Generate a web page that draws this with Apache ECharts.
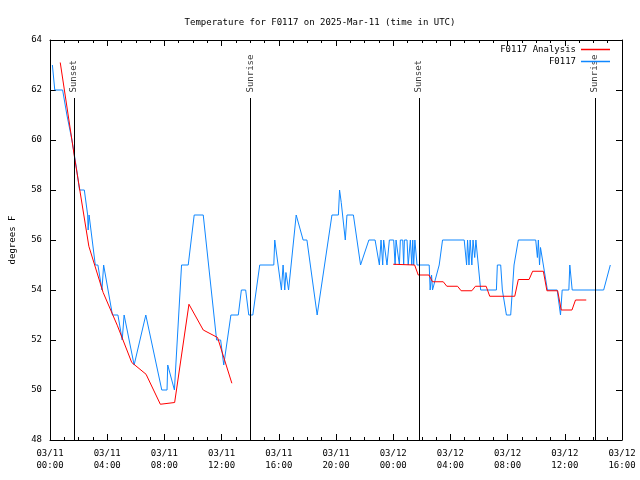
<!DOCTYPE html>
<html>
<head>
<meta charset="utf-8">
<script src="https://cdn.jsdelivr.net/npm/echarts@6/dist/echarts.min.js"></script>
<style>html,body{margin:0;padding:0;background:#fff}#c{width:640px;height:480px}</style>
</head>
<body>
<div id="c"></div>
<script>
// ---- Data (day-of-March HH:MM in UTC) ----
const obsTimes = [
'11 00:10','11 00:20','11 00:53','11 01:11','11 01:32','11 01:49','11 02:04','11 02:24','11 02:38','11 02:40',
'11 02:44','11 03:10','11 03:21','11 03:38','11 03:45','11 04:22','11 04:45','11 05:03','11 05:11','11 05:53',
'11 06:42','11 07:49','11 08:11','11 08:14','11 08:42','11 09:12','11 09:40','11 10:05','11 10:43','11 11:39',
'11 11:56','11 12:09','11 12:39','11 13:10','11 13:23','11 13:41','11 13:54','11 14:11','11 14:40','11 15:39',
'11 15:43','11 16:11','11 16:18','11 16:25','11 16:30','11 16:41','11 17:13','11 17:42','11 17:58','11 18:41',
'11 19:43','11 20:10','11 20:15','11 20:22','11 20:39','11 20:46','11 21:13','11 21:43','11 22:18','11 22:44',
'11 23:02','11 23:09','11 23:16','11 23:20','11 23:34','11 23:44','12 00:02','12 00:08','12 00:12','12 00:19',
'12 00:26','12 00:30','12 00:40','12 00:44','12 00:47','12 00:58','12 01:03','12 01:12','12 01:18','12 01:22',
'12 01:26','12 01:31','12 01:40','12 02:31','12 02:35','12 02:41','12 02:45','12 02:51','12 03:13','12 03:20',
'12 03:27','12 04:58','12 05:08','12 05:12','12 05:18','12 05:23','12 05:30','12 05:35','12 05:42','12 05:47',
'12 06:07','12 07:13','12 07:17','12 07:31','12 07:38','12 07:55','12 08:13','12 08:20','12 08:27','12 08:45',
'12 09:58','12 10:05','12 10:09','12 10:14','12 10:18','12 10:47','12 11:28','12 11:42','12 11:49','12 12:17',
'12 12:21','12 12:31','12 14:43','12 15:11'
];
const obsValues = [
63,62,62,61,60,59,58,58,57,56.4,
57,55,55,54,55,53,53,52,53,51,
53,50,50,51,50,55,55,57,57,52,
52,51,53,53,54,54,53,53,55,55,
56,54,55,54,54.7,54,57,56,56,53,
57,57,58,57.5,56,57,57,55,56,56,
55,56,55,56,55,56,56,55,56,56,
55,56,56,55,56,56,55,56,55,56,
55,56,55,55,54,54.6,54,54,55,55,
56,56,55,56,55,56,55,56,55.3,56,
54,54,55,55,54,53,53,54,55,56,
56,55.3,56,55,55.7,54,54,53,54,54,
55,54,54,55
];
const analysisTimesA = ['11 00:43','11 01:43','11 02:43','11 03:43','11 04:43','11 05:43','11 06:43','11 07:43','11 08:43','11 09:43','11 10:43','11 11:43','11 12:43'];
const analysisValuesA = [63.1,59.3,55.75,53.9,52.57,51.1,50.63,49.43,49.5,53.43,52.4,52.1,50.27];
const analysisTimesB = ['12 00:00','12 01:30','12 01:45','12 02:30','12 02:45','12 03:30','12 03:45','12 04:30','12 04:45','12 05:30','12 05:45','12 06:30','12 06:45','12 08:30','12 08:45','12 09:30','12 09:45','12 10:30','12 10:45','12 11:30','12 11:45','12 12:30','12 12:45','12 13:30'];
const analysisValuesB = [55.03,55.0,54.6,54.6,54.33,54.33,54.15,54.15,53.97,53.97,54.15,54.15,53.75,53.75,54.42,54.42,54.75,54.75,53.97,53.97,53.2,53.2,53.6,53.6];
const eventTimes = ['11 01:40','11 14:01','12 01:48','12 14:06'];
const eventNames = ['Sunset','Sunrise','Sunset','Sunrise'];
const yTicksMin = 48, yTicksMax = 64, yStep = 2;
const xHoursMax = 40, xStep = 4;

// ---- helpers ----
function toHours(s){
  const parts = s.split(' ');
  const hm = parts[1].split(':').map(Number);
  return (Number(parts[0]) - 11) * 24 + hm[0] + hm[1] / 60;
}
function pad(n){ return (n < 10 ? '0' : '') + n; }
function fmtX(v){
  const day = 11 + Math.floor(v / 24);
  const hh = Math.round(v - Math.floor(v / 24) * 24);
  return '03/' + pad(day) + '\n' + pad(hh) + ':00';
}
const FONT = 'DejaVu Sans Mono';
const RED = '#ff0000', BLUE = '#0f87ff';
const obsData = obsTimes.map((t, i) => [toHours(t), obsValues[i]]);
const anaData = analysisTimesA.map((t, i) => [toHours(t), analysisValuesA[i]])
  .concat([[ (toHours(analysisTimesA[analysisTimesA.length-1]) + toHours(analysisTimesB[0])) / 2, null ]])
  .concat(analysisTimesB.map((t, i) => [toHours(t), analysisValuesB[i]]));
const labelBase = 61.9, lineTop = 61.68;
const evData = eventTimes.map((t, i) => ({ name: eventNames[i], value: [toHours(t), labelBase] }));

const tickStyle = { color: '#000', width: 1 };
const chart = echarts.init(document.getElementById('c'), null, { renderer: 'canvas' });
chart.setOption({
  animation: false,
  backgroundColor: '#fff',
  title: {
    text: 'Temperature for F0117 on 2025-Mar-11 (time in UTC)',
    left: 'center', top: 13,
    textStyle: { fontFamily: FONT, fontSize: 9, fontWeight: 'normal', color: '#000' }
  },
  legend: {
    data: [
      { name: 'F0117 Analysis', icon: 'rect', itemStyle: { color: RED, borderWidth: 0, opacity: 1 } },
      { name: 'F0117', icon: 'rect', itemStyle: { color: BLUE, borderWidth: 0, opacity: 1 } }
    ],
    orient: 'vertical', right: 30, top: 45, align: 'right',
    itemWidth: 29, itemHeight: 1.5, itemGap: 3, padding: 0,
    textStyle: { fontFamily: FONT, fontSize: 9, color: '#000' }
  },
  grid: { left: 48, right: 18, top: 40, bottom: 40, containLabel: false },
  xAxis: [{
    type: 'value', min: 0, max: xHoursMax, interval: xStep,
    axisLine: { show: true, onZero: false, lineStyle: tickStyle },
    axisTick: { show: true, inside: true, length: 6, lineStyle: tickStyle },
    minorTick: { show: true, splitNumber: 4, length: 3, lineStyle: tickStyle },
    splitLine: { show: false },
    axisLabel: { formatter: fmtX, fontFamily: FONT, fontSize: 9, color: '#000', lineHeight: 12, margin: 8 }
  }, {
    type: 'value', position: 'top', min: 0, max: xHoursMax, interval: xStep,
    axisLine: { show: true, onZero: false, lineStyle: tickStyle },
    axisTick: { show: true, inside: true, length: 6, lineStyle: tickStyle },
    minorTick: { show: true, splitNumber: 4, length: 3, lineStyle: tickStyle },
    splitLine: { show: false },
    axisLabel: { show: false }
  }],
  yAxis: [{
    type: 'value', min: yTicksMin, max: yTicksMax, interval: yStep,
    name: 'degrees F', nameLocation: 'middle', nameGap: 33,
    nameTextStyle: { fontFamily: FONT, fontSize: 9, color: '#000' },
    axisLine: { show: true, onZero: false, lineStyle: tickStyle },
    axisTick: { show: true, inside: true, length: 6, lineStyle: tickStyle },
    splitLine: { show: false },
    axisLabel: { fontFamily: FONT, fontSize: 9, color: '#000', margin: 8 }
  }, {
    type: 'value', position: 'right', min: yTicksMin, max: yTicksMax, interval: yStep,
    axisLine: { show: true, onZero: false, lineStyle: tickStyle },
    axisTick: { show: true, inside: true, length: 6, lineStyle: tickStyle },
    splitLine: { show: false },
    axisLabel: { show: false }
  }],
  series: [{
    name: 'F0117 Analysis', type: 'line', data: anaData,
    symbol: 'none', connectNulls: false,
    lineStyle: { color: RED, width: 1 }, itemStyle: { color: RED }, z: 3
  }, {
    name: 'F0117', type: 'line', data: obsData,
    symbol: 'none',
    lineStyle: { color: BLUE, width: 1 }, itemStyle: { color: BLUE }, z: 2
  }, {
    name: 'events', type: 'scatter', data: evData,
    symbolSize: 0, silent: true, z: 1,
    itemStyle: { color: 'rgba(0,0,0,0)' },
    labelLayout: { hideOverlap: false },
    label: {
      show: true, formatter: '{b}', position: 'inside', rotate: 90,
      align: 'left', verticalAlign: 'middle',
      fontFamily: FONT, fontSize: 9, color: '#000'
    },
    markLine: {
      silent: true, symbol: 'none', animation: false,
      label: { show: false },
      lineStyle: { color: '#000', width: 1, type: 'solid' },
      data: eventTimes.map(t => [{ coord: [toHours(t), yTicksMin] }, { coord: [toHours(t), lineTop] }])
    }
  }]
});
</script>
</body>
</html>
